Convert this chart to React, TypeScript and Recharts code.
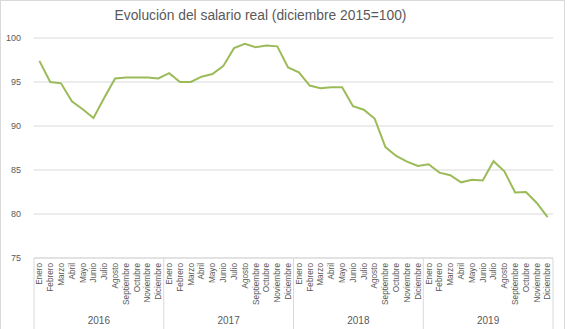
import React from 'react';
import { LineChart, Line, XAxis, YAxis, CartesianGrid } from 'recharts';

const months = ['Enero', 'Febrero', 'Marzo', 'Abril', 'Mayo', 'Junio', 'Julio', 'Agosto', 'Septiembre', 'Octubre', 'Noviembre', 'Diciembre'];
const years = ['2016', '2017', '2018', '2019'];
const salario2016 = [97.4, 95.0, 94.85, 92.8, 91.9, 90.9, 93.2, 95.4, 95.5, 95.5, 95.5, 95.4];
const salario2017 = [96.0, 95.0, 95.0, 95.6, 95.9, 96.8, 98.85, 99.35, 98.95, 99.15, 99.05, 96.65];
const salario2018 = [96.1, 94.6, 94.3, 94.4, 94.4, 92.25, 91.85, 90.85, 87.6, 86.6, 85.95, 85.45];
const salario2019 = [85.65, 84.7, 84.4, 83.6, 83.9, 83.8, 86.0, 84.85, 82.45, 82.5, 81.25, 79.65];
const yTicks = [75, 80, 85, 90, 95, 100];
const title = 'Evolución del salario real (diciembre 2015=100)';

const seriesByYear = [salario2016, salario2017, salario2018, salario2019];
const data = years.flatMap((yr, yi) =>
  months.map((m, mi) => ({ key: `${yr}-${m}`, month: m, year: yr, value: seriesByYear[yi][mi] }))
);

const W = 567;
const H = 329;
const LEFT = 34;
const RIGHT = 14;
const PLOT_W = W - LEFT - RIGHT;
const BAND = PLOT_W / data.length;
const XAXIS_H = 71;
const FONT = '"Liberation Sans", Arial, sans-serif';
const TEXT = '#595959';
const GRID = '#d9d9d9';

const MonthTick = (props: any) => {
  const { x, y, index, payload } = props;
  const i = typeof index === 'number' ? index : payload.index;
  const d = data[i];
  const ty = y + 5;
  const els: any[] = [
    <text
      key="m"
      x={x}
      y={ty}
      transform={`rotate(-90 ${x} ${ty})`}
      dy="0.35em"
      textAnchor="end"
      fontSize={8.2}
      fontFamily={FONT}
      fill={TEXT}
    >
      {d.month}
    </text>,
  ];
  if (i % 12 === 0) {
    const lx = x - BAND / 2;
    els.push(<line key="l" x1={lx} x2={lx} y1={y} y2={y + XAXIS_H} stroke={GRID} strokeWidth={1} />);
    els.push(
      <text key="y" x={lx + BAND * 6} y={y + 66} textAnchor="middle" fontSize={10} fontFamily={FONT} fill={TEXT}>
        {d.year}
      </text>
    );
  }
  if (i === data.length - 1) {
    const rx = x + BAND / 2;
    els.push(<line key="r" x1={rx} x2={rx} y1={y} y2={y + XAXIS_H} stroke={GRID} strokeWidth={1} />);
  }
  return <g>{els}</g>;
};

export default function App() {
  return (
    <div style={{ position: 'absolute', left: 0, top: 0, width: W, height: H, background: '#fff', overflow: 'hidden' }}>
      <div
        style={{
          position: 'absolute',
          left: 0,
          top: 0,
          width: 565,
          height: H + 2,
          boxSizing: 'border-box',
          border: `1px solid ${GRID}`,
        }}
      />
      <svg width={W} height={30} style={{ position: 'absolute', left: 0, top: 0 }}>
        <text x={260.5} y={19.5} textAnchor="middle" fontSize={13.8} fontFamily={FONT} fill={TEXT}>
          {title}
        </text>
      </svg>
      <div style={{ position: 'absolute', left: 0, top: 0 }}>
        <LineChart width={W} height={H} data={data} margin={{ top: 38, right: RIGHT, bottom: 0, left: 0 }}>
          <CartesianGrid vertical={false} stroke={GRID} strokeWidth={1} />
          <XAxis
            dataKey="key"
            interval={0}
            height={XAXIS_H}
            padding={{ left: BAND / 2, right: BAND / 2 }}
            axisLine={{ stroke: GRID }}
            tickLine={false}
            tickSize={0}
            tickMargin={0}
            tick={<MonthTick />}
          />
          <YAxis
            domain={[75, 100]}
            ticks={yTicks}
            width={LEFT}
            axisLine={false}
            tickLine={false}
            tickSize={0}
            tickMargin={13}
            tick={{ fontSize: 9, fontFamily: FONT, fill: TEXT }}
            allowDataOverflow
          />
          <Line
            type="linear"
            dataKey="value"
            stroke="#9bbb59"
            strokeWidth={2}
            dot={false}
            isAnimationActive={false}
          />
        </LineChart>
      </div>
    </div>
  );
}
